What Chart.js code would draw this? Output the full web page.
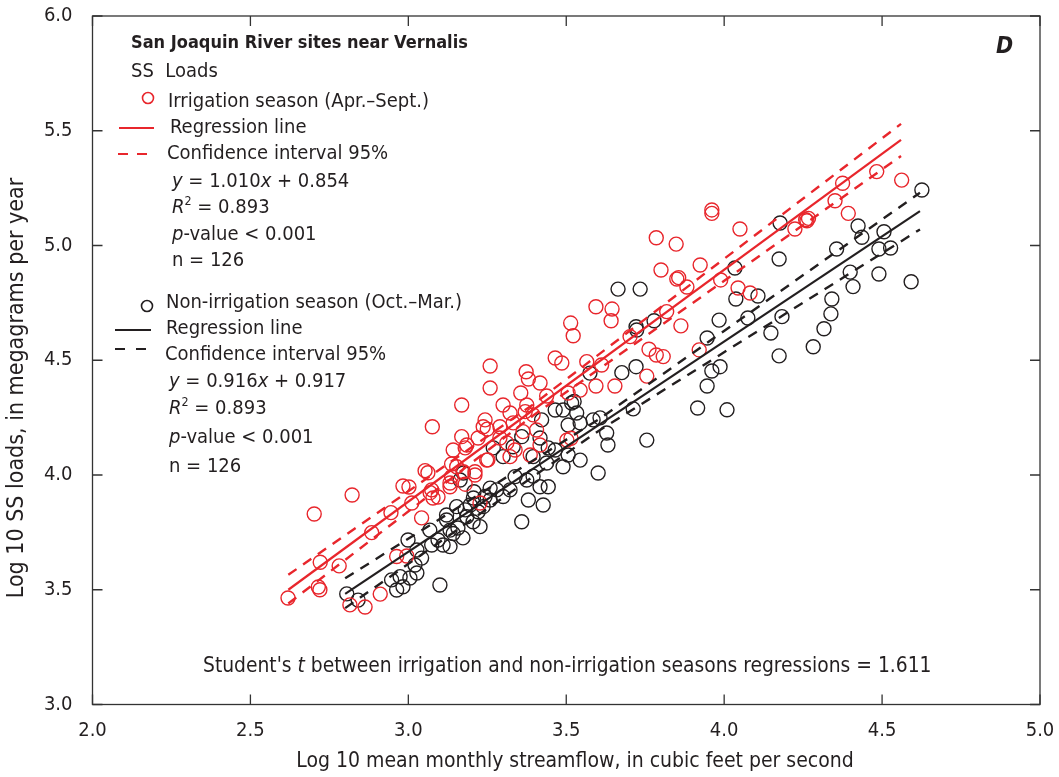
<!DOCTYPE html>
<html><head><meta charset="utf-8">
<script src="https://cdn.jsdelivr.net/npm/chart.js@4/dist/chart.umd.min.js"></script>
<style>html,body{margin:0;padding:0;background:#fff}#wrap{width:1059px;height:777px;position:relative}</style>
</head><body><div id="wrap"><canvas id="c" width="1059" height="777"></canvas></div>
<script>
const xTicks = [2.0, 2.5, 3.0, 3.5, 4.0, 4.5, 5.0];
const yTicks = [3.0, 3.5, 4.0, 4.5, 5.0, 5.5, 6.0];

const irrX = [2.619,2.702,2.715,2.720,2.721,2.822,2.781,2.815,2.863,2.911,2.884,2.945,2.983,3.002,3.042,2.963,2.995,3.053,3.062,3.069,3.094,3.137,3.132,3.180,3.174,3.211,3.252,3.227,3.259,3.076,3.169,3.259,3.373,3.380,3.417,3.356,3.465,3.486,3.565,3.514,3.522,3.612,3.544,3.594,3.654,3.438,3.506,3.300,3.375,3.243,3.237,3.250,3.322,3.290,3.332,3.169,3.185,3.221,3.290,3.312,3.338,3.363,3.406,3.417,3.395,3.370,3.142,3.153,3.132,3.074,3.078,3.137,3.180,3.211,3.322,3.248,3.386,3.502,3.515,3.011,3.961,3.961,4.050,3.785,3.848,3.924,3.800,3.850,3.856,3.882,3.989,4.044,4.082,4.224,3.594,3.645,3.642,3.818,3.863,3.702,3.762,3.785,3.807,3.921,3.755,4.483,4.562,4.375,4.351,4.393,4.267,4.262,4.258];
const irrY = [3.464,3.830,3.512,3.500,3.620,3.913,3.604,3.434,3.425,3.481,3.749,3.836,3.952,3.948,3.813,3.645,3.647,4.019,4.010,3.923,3.904,4.048,3.949,3.960,4.014,4.014,4.066,3.878,4.475,4.210,4.305,4.379,4.450,4.418,4.401,4.357,4.510,4.488,4.494,4.662,4.607,4.479,4.370,4.388,4.388,4.344,4.357,4.305,4.305,4.240,4.210,4.200,4.270,4.210,4.227,4.167,4.131,4.161,4.161,4.140,4.109,4.189,4.196,4.131,4.262,4.276,4.109,4.036,3.965,3.935,3.900,3.993,4.118,4.000,4.080,4.065,4.087,4.152,4.160,3.878,5.155,5.140,5.072,5.034,5.006,4.915,4.893,4.854,4.860,4.819,4.850,4.815,4.793,5.072,4.733,4.723,4.672,4.712,4.650,4.603,4.548,4.523,4.516,4.545,4.431,5.322,5.285,5.271,5.195,5.140,5.118,5.108,5.112];

const nonX = [2.805,2.841,3.100,2.947,2.963,2.983,2.974,3.005,3.027,3.021,3.042,3.027,3.094,3.110,3.132,3.074,3.121,3.132,3.157,3.173,3.185,3.205,3.227,3.142,3.164,3.208,3.243,3.259,3.280,3.196,3.153,2.999,3.068,3.575,3.676,3.721,3.723,3.517,3.525,3.465,3.490,3.533,3.506,3.544,3.585,3.607,3.712,3.755,3.632,3.628,3.422,3.417,3.359,3.332,3.269,3.300,3.443,3.465,3.506,3.395,3.438,3.544,3.490,3.601,3.174,3.338,3.375,3.395,3.417,3.443,3.380,3.427,3.322,3.300,3.259,3.237,3.206,3.180,3.121,3.221,3.359,3.664,3.734,4.034,4.177,4.174,4.037,4.107,3.721,3.778,3.984,4.075,4.183,4.148,4.174,3.946,3.961,3.987,3.946,4.626,4.424,4.436,4.506,4.490,4.527,4.356,4.399,4.408,4.490,4.592,4.341,4.338,4.316,4.282,4.009,3.916];
const nonY = [3.482,3.455,3.521,3.543,3.499,3.513,3.557,3.551,3.573,3.608,3.638,3.673,3.717,3.695,3.688,3.695,3.804,3.760,3.769,3.726,3.818,3.796,3.775,3.745,3.978,3.927,3.906,3.943,3.935,3.869,3.862,3.717,3.760,4.444,4.446,4.472,4.632,4.314,4.320,4.283,4.283,4.270,4.218,4.227,4.240,4.249,4.288,4.152,4.131,4.183,4.240,4.161,4.167,4.123,4.118,4.080,4.118,4.109,4.087,4.080,4.052,4.065,4.036,4.009,4.009,3.993,3.978,3.995,3.949,3.949,3.891,3.869,3.935,3.906,3.891,3.862,3.900,3.848,3.826,3.840,3.796,4.810,4.810,4.902,5.098,4.941,4.767,4.780,4.646,4.672,4.675,4.684,4.690,4.619,4.519,4.597,4.453,4.472,4.388,5.242,5.085,5.036,5.060,4.985,4.989,4.985,4.884,4.821,4.876,4.842,4.767,4.702,4.637,4.559,4.284,4.292];

const irrLineX = [2.62, 4.56];
const irrLineY = [3.500, 5.460];
const irrCiX = [2.62, 3.40, 4.56];
const irrCiUp = [3.565, 4.312, 5.530];
const irrCiLo = [3.440, 4.264, 5.390];

const nonLineX = [2.80, 4.62];
const nonLineY = [3.482, 5.150];
const nonCiX = [2.80, 3.60, 4.62];
const nonCiUp = [3.550, 4.240, 5.230];
const nonCiLo = [3.420, 4.190, 5.070];

const RED = '#e8262c';
const BLK = '#231f20';
const TXT = '#231f20';
const FF = "'Liberation Sans Narrow','Arial Narrow','DejaVu Sans Condensed',sans-serif";

const pts = (xs, ys) => xs.map((x, i) => ({x, y: ys[i]}));

function seg(ctx, x, y, parts, size) {
  for (const p of parts) {
    const [t, st] = p;
    let fs = size, dy = 0, style = '';
    if (st && st.includes('i')) style = 'italic ';
    if (st && st.includes('b')) style += 'bold ';
    if (st && st.includes('s')) { fs = size * 0.62; dy = -size * 0.42; }
    ctx.font = style + fs + 'px ' + FF;
    ctx.fillText(t, x, y + dy);
    x += ctx.measureText(t).width;
  }
}

const deco = {
  id: 'deco',
  afterDatasetsDraw(chart) {
    const ctx = chart.ctx, a = chart.chartArea;
    const xs = chart.scales.x, ys = chart.scales.y;
    ctx.save();
    ctx.strokeStyle = '#333';
    ctx.lineWidth = 1.3;
    ctx.strokeRect(a.left, a.top, a.right - a.left, a.bottom - a.top);
    const TL = 10;
    ctx.beginPath();
    for (const v of xTicks) {
      const px = xs.getPixelForValue(v);
      ctx.moveTo(px, a.bottom); ctx.lineTo(px, a.bottom - TL);
      ctx.moveTo(px, a.top); ctx.lineTo(px, a.top + TL);
    }
    for (const v of yTicks) {
      const py = ys.getPixelForValue(v);
      ctx.moveTo(a.left, py); ctx.lineTo(a.left + TL, py);
      ctx.moveTo(a.right, py); ctx.lineTo(a.right - TL, py);
    }
    ctx.stroke();

    ctx.fillStyle = TXT;
    ctx.textBaseline = 'alphabetic';
    ctx.textAlign = 'left';
    const S = 20;
    seg(ctx, 131, 48, [['San Joaquin River sites near Vernalis', 'b']], 18);
    seg(ctx, 131, 77, [['SS  Loads', '']], S);
    ctx.strokeStyle = RED; ctx.lineWidth = 1.6;
    ctx.beginPath(); ctx.arc(148, 98, 5.5, 0, Math.PI * 2); ctx.stroke();
    seg(ctx, 168, 107, [['Irrigation season (Apr.–Sept.)', '']], S);
    ctx.lineWidth = 2.2;
    ctx.beginPath(); ctx.moveTo(119, 128); ctx.lineTo(154, 128); ctx.stroke();
    seg(ctx, 170, 133, [['Regression line', '']], S);
    ctx.setLineDash([10, 9]);
    ctx.beginPath(); ctx.moveTo(118, 154); ctx.lineTo(148, 154); ctx.stroke();
    ctx.setLineDash([]);
    seg(ctx, 167, 159, [['Confidence interval 95%', '']], S);
    seg(ctx, 172, 187, [['y', 'i'], [' = 1.010', ''], ['x', 'i'], [' + 0.854', '']], S);
    seg(ctx, 172, 213, [['R', 'i'], ['2', 's'], [' = 0.893', '']], S);
    seg(ctx, 172, 240, [['p', 'i'], ['-value < 0.001', '']], S);
    seg(ctx, 172, 266, [['n = 126', '']], S);
    ctx.strokeStyle = BLK; ctx.lineWidth = 1.6;
    ctx.beginPath(); ctx.arc(147, 306, 5.5, 0, Math.PI * 2); ctx.stroke();
    seg(ctx, 166, 308, [['Non-irrigation season (Oct.–Mar.)', '']], S);
    ctx.lineWidth = 2.2;
    ctx.beginPath(); ctx.moveTo(115, 330); ctx.lineTo(151, 330); ctx.stroke();
    seg(ctx, 166, 334, [['Regression line', '']], S);
    ctx.setLineDash([10, 11]);
    ctx.beginPath(); ctx.moveTo(115, 349); ctx.lineTo(147, 349); ctx.stroke();
    ctx.setLineDash([]);
    seg(ctx, 165, 360, [['Confidence interval 95%', '']], S);
    seg(ctx, 169, 387, [['y', 'i'], [' = 0.916', ''], ['x', 'i'], [' + 0.917', '']], S);
    seg(ctx, 169, 414, [['R', 'i'], ['2', 's'], [' = 0.893', '']], S);
    seg(ctx, 169, 443, [['p', 'i'], ['-value < 0.001', '']], S);
    seg(ctx, 169, 472, [['n = 126', '']], S);

    seg(ctx, 996, 53, [['D', 'ib']], 23);
    seg(ctx, 203, 672, [["Student's ", ''], ['t', 'i'], [' between irrigation and non-irrigation seasons regressions = 1.611', '']], 20.8);

    // axis titles
    ctx.textAlign = 'center';
    ctx.textBaseline = 'middle';
    ctx.font = '21px ' + FF;
    ctx.fillText('Log 10 mean monthly streamflow, in cubic feet per second', 575, 762);
    ctx.save();
    ctx.translate(17, 388);
    ctx.rotate(-Math.PI / 2);
    ctx.font = '23px ' + FF;
    ctx.fillText('Log 10 SS loads, in megagrams per year', 0, 0);
    ctx.restore();
    ctx.restore();
  }
};

const lineDs = (label, xs, ys, color, dash, w) => ({
  type: 'line', label, data: pts(xs, ys), borderColor: color, borderWidth: w,
  borderDash: dash, pointRadius: 0, fill: false, showLine: true, tension: 0, order: 0
});

new Chart(document.getElementById('c'), {
  type: 'scatter',
  data: {
    datasets: [
      lineDs('irrLine', irrLineX, irrLineY, RED, [], 2.2),
      lineDs('irrUp', irrCiX, irrCiUp, RED, [10, 8], 2.4),
      lineDs('irrLo', irrCiX, irrCiLo, RED, [10, 8], 2.4),
      lineDs('nonLine', nonLineX, nonLineY, BLK, [], 2.2),
      lineDs('nonUp', nonCiX, nonCiUp, BLK, [10, 8], 2.4),
      lineDs('nonLo', nonCiX, nonCiLo, BLK, [10, 8], 2.4),
      { label: 'Irrigation', data: pts(irrX, irrY), pointStyle: 'circle', pointRadius: 7,
        pointBorderWidth: 1.4, borderColor: RED, backgroundColor: 'rgba(0,0,0,0)', order: 1 },
      { label: 'Non-irrigation', data: pts(nonX, nonY), pointStyle: 'circle', pointRadius: 7,
        pointBorderWidth: 1.4, borderColor: BLK, backgroundColor: 'rgba(0,0,0,0)', order: 1 }
    ]
  },
  options: {
    responsive: false, animation: false, devicePixelRatio: 1,
    layout: { padding: { left: 0, top: 16, right: 19, bottom: 0 } },
    plugins: { legend: { display: false }, tooltip: { enabled: false } },
    scales: {
      x: {
        type: 'linear', min: 2, max: 5,
        afterBuildTicks: s => { s.ticks = xTicks.map(v => ({ value: v })); },
        afterFit: s => { s.height = 72.5; s.paddingLeft = 0; s.paddingRight = 0; },
        grid: { display: false, drawTicks: false },
        border: { display: false },
        ticks: { color: TXT, padding: 14, font: { family: FF, size: 20 }, callback: v => v.toFixed(1), maxRotation: 0 },
        title: { display: false }
      },
      y: {
        type: 'linear', min: 3, max: 6,
        afterBuildTicks: s => { s.ticks = yTicks.map(v => ({ value: v })); },
        afterFit: s => { s.width = 92.5; s.paddingTop = 0; s.paddingBottom = 0; },
        grid: { display: false, drawTicks: false },
        border: { display: false },
        ticks: { color: TXT, padding: 20, font: { family: FF, size: 20 }, callback: v => v.toFixed(1) },
        title: { display: false }
      }
    }
  },
  plugins: [deco]
});
</script></body></html>
